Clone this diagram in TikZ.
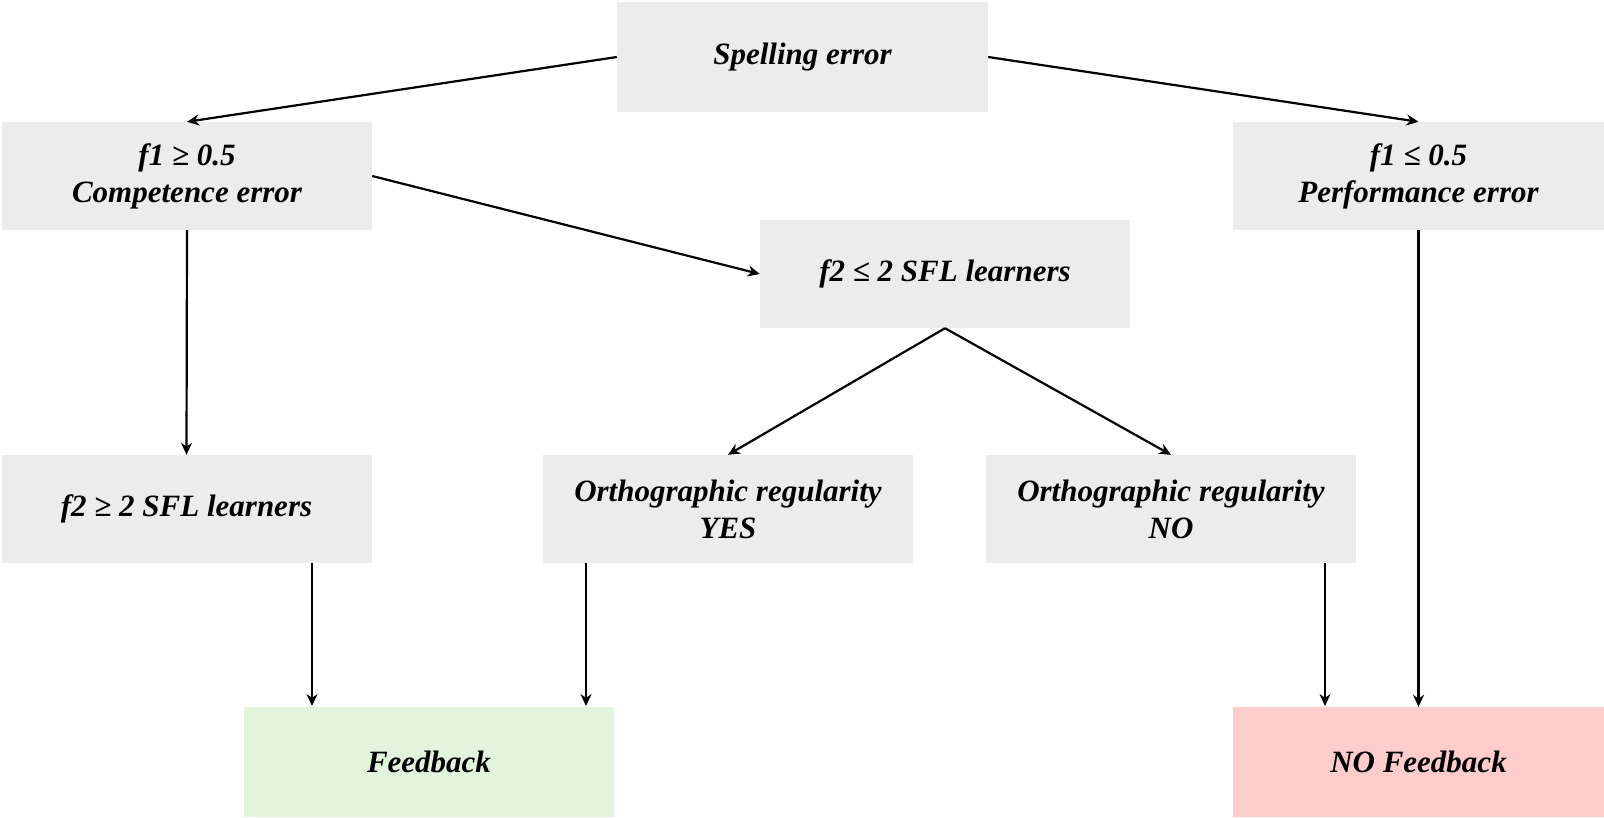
\documentclass[tikz,border=0pt]{standalone}
\usepackage{fontspec}
\setmainfont{Liberation Serif}
\usetikzlibrary{arrows.meta}
\definecolor{boxgray}{HTML}{ECECEC}
\definecolor{boxgreen}{HTML}{E2F5DC}
\definecolor{boxpink}{HTML}{FFCCCC}
\begin{document}
\begin{tikzpicture}[x=1pt,y=-1pt,
  box/.style={fill=boxgray, draw=none, minimum width=370pt, minimum height=108pt, inner sep=0pt,
    align=center, font=\fontsize{31}{37}\selectfont\bfseries\itshape},
  arr/.style={draw=black, line width=2.2pt, -{Stealth[length=12pt,width=11pt]}}]
\useasboundingbox (0,0) rectangle (1604,817);
\node[box, minimum width=371pt, minimum height=110pt] (spell) at (802.5,57) {Spelling error};
\node[box] (f1) at (187,176) {f1 ≥ 0.5\\Competence error};
\node[box, minimum width=371pt] (perf) at (1418.5,176) {f1 ≤ 0.5\\Performance error};
\node[box] (f2le) at (945,274) {f2 ≤ 2 SFL learners};
\node[box] (f2ge) at (186.5,509) {f2 ≥ 2 SFL learners};
\node[box] (yes) at (728,509) {Orthographic regularity\\YES};
\node[box] (no) at (1171,509) {Orthographic regularity\\NO};
\node[box, fill=boxgreen, minimum height=110pt] (fb) at (429,762) {Feedback};
\node[box, fill=boxpink, minimum width=371pt, minimum height=110pt] (nofb) at (1418.5,762) {NO Feedback};
\coordinate (fbA) at (312,706);
\coordinate (fbB) at (586,706);
\coordinate (nfA) at (1325,706);
\draw[arr] (spell.west) -- (f1.north);
\draw[arr] (spell.east) -- (perf.north);
\draw[arr] (f1.east) -- (f2le.west);
\draw[arr] (f1.south) -- (f2ge.north);
\draw[arr] (f2le.south) -- (yes.north);
\draw[arr] (f2le.south) -- (no.north);
\draw[arr] (f2ge.south -| fbA) -- (fbA);
\draw[arr] (yes.south -| fbB) -- (fbB);
\draw[arr] (no.south -| nfA) -- (nfA);
\draw[arr] (perf.south) -- (perf.south |- nofb.north);
\end{tikzpicture}
\end{document}
